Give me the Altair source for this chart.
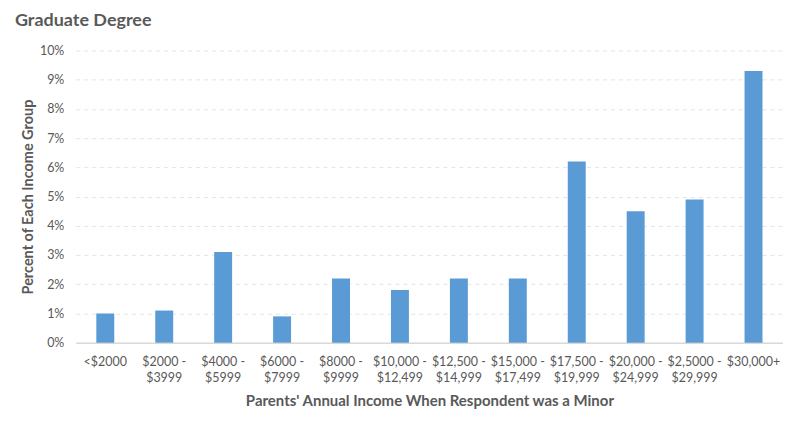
import altair as alt
import pandas as pd

categories = ["<$2000", "$2000 -|$3999", "$4000 -|$5999", "$6000 -|$7999", "$8000 -|$9999",
              "$10,000 -|$12,499", "$12,500 -|$14,999", "$15,000 -|$17,499", "$17,500 -|$19,999",
              "$20,000 -|$24,999", "$2,5000 -|$29,999", "$30,000+"]
values = [1.0, 1.1, 3.1, 0.9, 2.2, 1.8, 2.2, 2.2, 6.2, 4.5, 4.9, 9.3]

df = pd.DataFrame({"cat": categories, "val": [v / 100 for v in values]})

FONT = "Lato"
GRAY = "#595959"

chart = alt.Chart(df).mark_bar(color="#5B9BD5", size=18).encode(
    x=alt.X("cat:N", sort=None, title="Parents' Annual Income When Respondent was a Minor",
            scale=alt.Scale(paddingInner=0.0, paddingOuter=0.0),
            axis=alt.Axis(labelAngle=0, labelExpr="split(datum.label, '|')",
                          labelFont=FONT, labelFontSize=12.5, labelColor=GRAY,
                          labelPadding=13, labelLineHeight=16, ticks=False,
                          domainColor="#D9D9D9", domainWidth=1.5,
                          titleFont=FONT, titleFontSize=15, titleFontWeight="bold",
                          titleColor=GRAY, titlePadding=9)),
    y=alt.Y("val:Q", title="Percent of Each Income Group",
            scale=alt.Scale(domain=[0, 0.10]),
            axis=alt.Axis(format=".0%", values=[i / 100 for i in range(11)],
                          labelFont=FONT, labelFontSize=12.5, labelColor=GRAY,
                          labelPadding=12, ticks=False, domain=False,
                          gridDash=[4, 4], gridColor="#E4E4E4",
                          titleFont=FONT, titleFontSize=14.5, titleFontWeight="bold",
                          titleColor=GRAY, titlePadding=4)),
).properties(
    width=709, height=293,
    autosize=alt.AutoSizeParams(type="none"),
    padding={"left": 68, "top": 42, "right": 0, "bottom": 88},
    title=alt.TitleParams("Graduate Degree", anchor="start", frame="group", font=FONT,
                          fontSize=18, fontWeight="bold", color=GRAY, dx=-61, offset=14),
).configure_view(stroke=None)

chart.save("out.html", embed_options={"renderer": "svg", "actions": False})
